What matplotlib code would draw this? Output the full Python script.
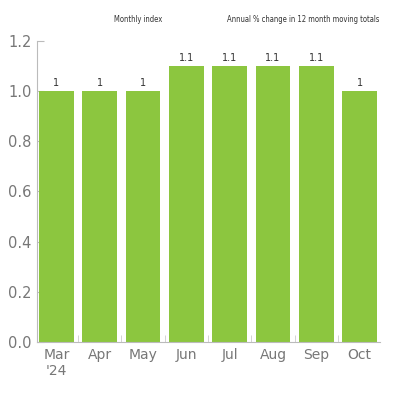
import matplotlib
matplotlib.use("Agg")
import matplotlib.pyplot as plt
import numpy as np

months = ["Mar\n'24", "Apr", "May", "Jun", "Jul", "Aug", "Sep", "Oct"]
values = [1.0, 1.0, 1.0, 1.1, 1.1, 1.1, 1.1, 1.0]
bar_labels = ["1", "1", "1", "1.1", "1.1", "1.1", "1.1", "1"]

fig = plt.figure(figsize=(4, 4), dpi=100)
ax = fig.add_axes([0.0925, 0.145, 0.8575, 0.753])
x = np.arange(len(months))
ax.bar(x, values, width=0.8, color="#8cc63f", zorder=2)
for xi, v, lab in zip(x, values, bar_labels):
    ax.text(xi, v + 0.012, lab, ha="center", va="bottom", fontsize=7, color="#333333")

ax.set_xlim(-0.45, len(months) - 0.53)
ax.set_ylim(0, 1.2)
ax.set_yticks([0, 0.2, 0.4, 0.6, 0.8, 1.0, 1.2])
ax.set_yticklabels(["0.0", "0.2", "0.4", "0.6", "0.8", "1.0", "1.2"])
ax.set_xticks(x)
ax.set_xticklabels(months)
ax.set_xticks(np.arange(len(months) - 1) + 0.5, minor=True)
ax.tick_params(axis="x", which="major", length=0, colors="#777777", labelsize=10, pad=4)
ax.tick_params(axis="x", which="minor", direction="in", length=5, color="#cccccc")
ax.tick_params(axis="y", direction="in", length=5, color="#bbbbbb", labelcolor="#777777", labelsize=10.5, pad=4)
for s in ["top", "right"]:
    ax.spines[s].set_visible(False)
for s in ["left", "bottom"]:
    ax.spines[s].set_color("#bbbbbb")
    ax.spines[s].set_linewidth(0.8)

fig.text(0.345, 0.95, "Monthly index", ha="center", va="center", fontsize=5.5,
         color="#333333", family="DejaVu Sans", fontstretch="condensed")
fig.text(0.948, 0.952, "Annual % change in 12 month moving totals", ha="right", va="center",
         fontsize=5.5, color="#333333", family="DejaVu Sans", fontstretch="condensed")

fig.savefig("out.png", dpi=100)
